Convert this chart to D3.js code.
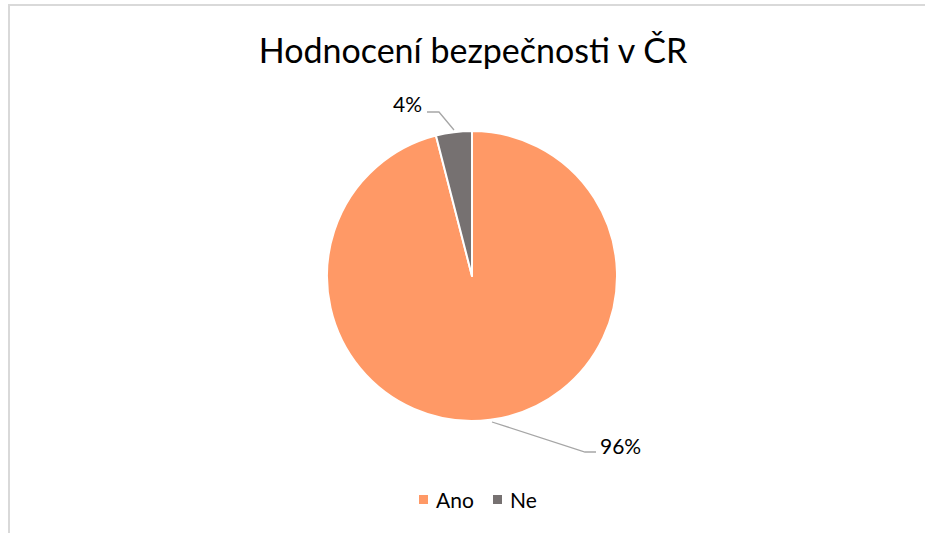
<!DOCTYPE html>
<html>
<head>
<meta charset="utf-8">
<script src="https://cdn.jsdelivr.net/npm/d3@7"></script>
<style>
  body { margin: 0; background: #fff; }
  svg { display: block; font-family: Lato, "Open Sans", sans-serif; }
</style>
</head>
<body>
<div id="chart"></div>
<script>
// --- Data ---
const categories = ["Ano", "Ne"];
const values = [96, 4];
const labels = ["96%", "4%"];
const colors = ["#FF9966", "#767171"];

const width = 925, height = 533;
const cx = 472, cy = 276, radius = 145;

const svg = d3.select("#chart").append("svg")
    .attr("width", width)
    .attr("height", height);

// chart frame (cropped on right/bottom)
svg.append("path")
    .attr("d", "M9,533 V5 H925")
    .attr("fill", "none")
    .attr("stroke", "#d9d9d9")
    .attr("stroke-width", 2);

// title
svg.append("text")
    .attr("x", 473)
    .attr("y", 63)
    .attr("text-anchor", "middle")
    .attr("font-size", 34)
    .attr("fill", "#000")
    .text("Hodnocení bezpečnosti v ČR");

const pie = d3.pie().sort(null).value(d => d)(values);
const arc = d3.arc().innerRadius(0).outerRadius(radius);

const g = svg.append("g").attr("transform", `translate(${cx},${cy})`);

g.selectAll("path.slice")
    .data(pie)
    .join("path")
    .attr("class", "slice")
    .attr("d", arc)
    .attr("fill", (d, i) => colors[i])
    .attr("stroke", "#fff")
    .attr("stroke-width", 2)
    .attr("stroke-linejoin", "round");

// leader lines + labels (positions placed outside the pie like Excel)
const labelPos = [
    { pts: [[492, 422], [585, 452], [596, 452]], tx: 600, ty: 454, anchor: "start" },
    { pts: [[454, 130], [439, 112], [427, 112]], tx: 422, ty: 112, anchor: "end" }
];

svg.selectAll("path.leader")
    .data(labelPos)
    .join("path")
    .attr("class", "leader")
    .attr("d", d => d3.line()(d.pts))
    .attr("fill", "none")
    .attr("stroke", "#a6a6a6")
    .attr("stroke-width", 1.3);

svg.selectAll("text.lbl")
    .data(labelPos)
    .join("text")
    .attr("class", "lbl")
    .attr("x", d => d.tx)
    .attr("y", d => d.ty)
    .attr("text-anchor", d => d.anchor)
    .attr("font-size", 21)
    .attr("fill", "#000")
    .text((d, i) => labels[i]);

// legend
const legendX = [419, 493];
const legend = svg.selectAll("g.legend")
    .data(categories)
    .join("g")
    .attr("class", "legend")
    .attr("transform", (d, i) => `translate(${legendX[i]},500)`);

legend.append("rect")
    .attr("x", 0).attr("y", -5)
    .attr("width", 9).attr("height", 9)
    .attr("fill", (d, i) => colors[i]);

legend.append("text")
    .attr("x", 17)
    .attr("y", 8)
    .attr("font-size", 21)
    .attr("fill", "#000")
    .text(d => d);
</script>
</body>
</html>
